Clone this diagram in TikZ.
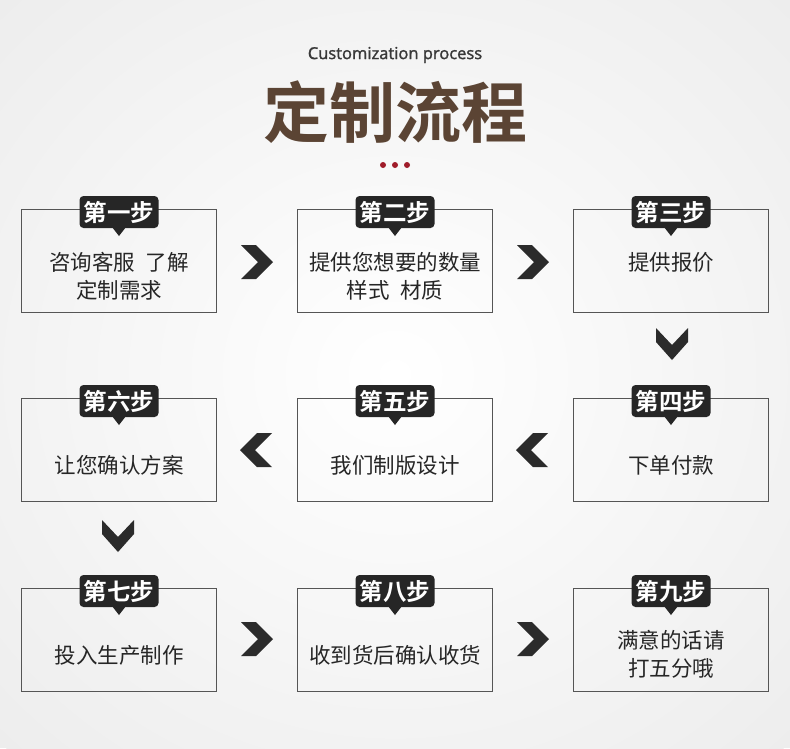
\documentclass[tikz,border=0pt]{standalone}
\usepackage{fontspec}
\setmainfont{Open Sans}
\newfontfamily\subf[FakeBold=1.5]{Open Sans}
\newfontfamily\cjk{Noto Sans CJK SC}
\newfontfamily\cjkb{Noto Sans CJK SC Bold}
\usetikzlibrary{shapes.geometric}
\definecolor{titlebrown}{HTML}{5B4434}
\definecolor{dotred}{HTML}{A01C2A}
\definecolor{labeldark}{HTML}{262626}
\definecolor{chev}{HTML}{2B2B2B}
\definecolor{boxline}{HTML}{555555}
\tikzset{
  stepbox/.style={draw=boxline, line width=0.9pt, minimum width=195pt, minimum height=103pt, inner sep=0pt},
  boxtext/.style={font=\cjk\fontsize{21.5}{28}\selectfont, text=black!85, align=center},
  steplabel/.style={fill=labeldark, rounded corners=4pt, minimum width=79pt, minimum height=32pt, inner sep=0pt, text=white, font=\cjkb\fontsize{23.5}{26}\selectfont},
  chevfill/.style={fill=chev, draw=none},
}
\newcommand{\rchev}[2]{\fill[chevfill] (#1-15,#2-17) -- (#1,#2-17) -- (#1+17,#2) -- (#1,#2+17) -- (#1-15,#2+17) -- (#1+2,#2) -- cycle;}
\newcommand{\lchev}[2]{\fill[chevfill] (#1+15,#2-17) -- (#1,#2-17) -- (#1-17,#2) -- (#1,#2+17) -- (#1+15,#2+17) -- (#1-2,#2) -- cycle;}
\newcommand{\dchev}[2]{\fill[chevfill] (#1-16,#2-16) -- (#1-16,#2-2) -- (#1,#2+16) -- (#1+16,#2-2) -- (#1+16,#2-16) -- (#1,#2+1) -- cycle;}
\begin{document}
\begin{tikzpicture}[x=1pt,y=-1pt]
\useasboundingbox (0,0) rectangle (790,748);
\fill[black!7] (0,0) rectangle (790,748);
\shade[inner color=white, outer color=black!7] (395,374) ellipse (560 and 520);
% header
\node (sub) at (395,55) {\subf\fontsize{16.5}{18}\selectfont\color{black!78}Customization process};
\node (title) at (395,112) {\cjkb\fontsize{66}{70}\selectfont\color{titlebrown}定制流程};
\foreach \dx in {-12,0,12} \fill[dotred] (395+\dx,165) circle (3);
% boxes
\node[stepbox] (b1) at (119,260.5) {};
\node[stepbox] (b2) at (395,260.5) {};
\node[stepbox] (b3) at (671,260.5) {};
\node[stepbox] (b6) at (119,450) {};
\node[stepbox] (b5) at (395,450) {};
\node[stepbox] (b4) at (671,450) {};
\node[stepbox] (b7) at (119,640) {};
\node[stepbox] (b8) at (395,640) {};
\node[stepbox] (b9) at (671,640) {};
% texts
\node[boxtext] (t1) at (119,276) {咨询客服\hspace{0.5em}了解\\定制需求};
\node[boxtext] (t2) at (395,276) {提供您想要的数量\\样式\hspace{0.5em}材质};
\node[boxtext] (t3) at (671,262) {提供报价};
\node[boxtext] (t4) at (671,465) {下单付款};
\node[boxtext] (t5) at (395,465) {我们制版设计};
\node[boxtext] (t6) at (119,465) {让您确认方案};
\node[boxtext] (t7) at (119,655) {投入生产制作};
\node[boxtext] (t8) at (395,655) {收到货后确认收货};
\node[boxtext] (t9) at (671,654) {满意的话请\\打五分哦};
% step labels
\foreach \n/\x/\y/\s in {l1/119/212/第一步, l2/395/212/第二步, l3/671/212/第三步, l4/671/401/第四步, l5/395/401/第五步, l6/119/401/第六步, l7/119/591/第七步, l8/395/591/第八步, l9/671/591/第九步}{
  \fill[labeldark] (\x-7,\y+15) -- (\x,\y+24) -- (\x+7,\y+15) -- cycle;
  \node[steplabel] (\n) at (\x,\y) {\s};
}
% chevrons
\rchev{256}{262}
\rchev{532}{262}
\dchev{672}{344}
\lchev{257}{450}
\lchev{533}{450}
\dchev{118}{536}
\rchev{256}{639}
\rchev{532}{639}
\end{tikzpicture}
\end{document}
